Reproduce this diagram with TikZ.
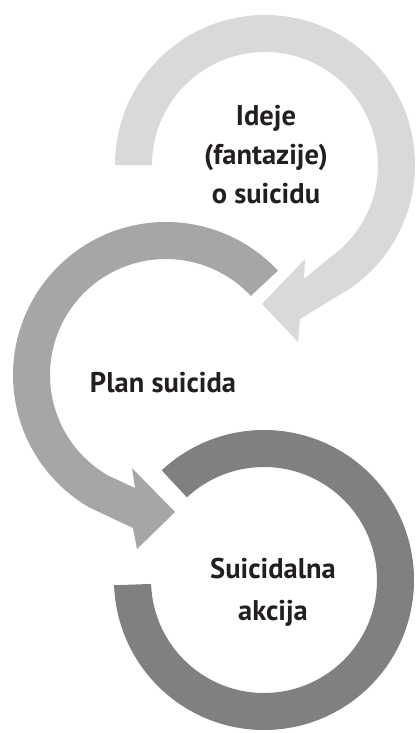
\documentclass[tikz,border=0pt]{standalone}
\usepackage{fontspec}
\setmainfont{PT Sans}
\definecolor{ringlight}{HTML}{D9D9D9}
\definecolor{ringmid}{HTML}{A6A6A6}
\definecolor{ringdark}{HTML}{808080}
\definecolor{txt}{HTML}{231F20}
\begin{document}
\begin{tikzpicture}[x=1pt, y=1pt, line join=round,
  lbl/.style={text=txt, align=center, inner sep=0pt, anchor=base,
    font=\fontsize{28.5}{39}\selectfont\bfseries}]
\useasboundingbox (0,0) rectangle (415,-733);
\coordinate (ctop) at (265,-165);
\coordinate (cmid) at (166,-375);
\coordinate (cbot) at (264,-580);
% ideje ring, arrow into the plan
\fill[ringlight] ([shift={(180:150)}]ctop) arc[start angle=180, end angle=-55, radius=150]
  -- (300,-319) -- (298,-342) -- (262,-304) -- (305,-259) -- (304,-279)
  -- ([shift={(-55:113)}]ctop) arc[start angle=-55, end angle=180, radius=113] -- cycle;
% plan ring, arrow into the action
\fill[ringmid] ([shift={(43:153)}]cmid) arc[start angle=43, end angle=240, radius=153]
  -- (133,-528) -- (137,-549) -- (175,-512) -- (132,-468) -- (135,-488)
  -- ([shift={(240:116)}]cmid) arc[start angle=240, end angle=43, radius=116] -- cycle;
% action ring
\fill[ringdark] ([shift={(133:150)}]cbot) arc[start angle=133, end angle=-178, radius=150]
  -- ([shift={(-178:113)}]cbot) arc[start angle=-178, end angle=133, radius=113] -- cycle;
% base sits on the last line
\node[lbl] (ideje) at (266,-203) {Ideje\\(fantazije)\\o suicidu};
\node[lbl] (plan) at (163,-392) {Plan suicida};
\node[lbl, font=\fontsize{28.5}{42}\selectfont\bfseries] (akcija) at (273,-620) {Suicidalna\\akcija};
\end{tikzpicture}
\end{document}
